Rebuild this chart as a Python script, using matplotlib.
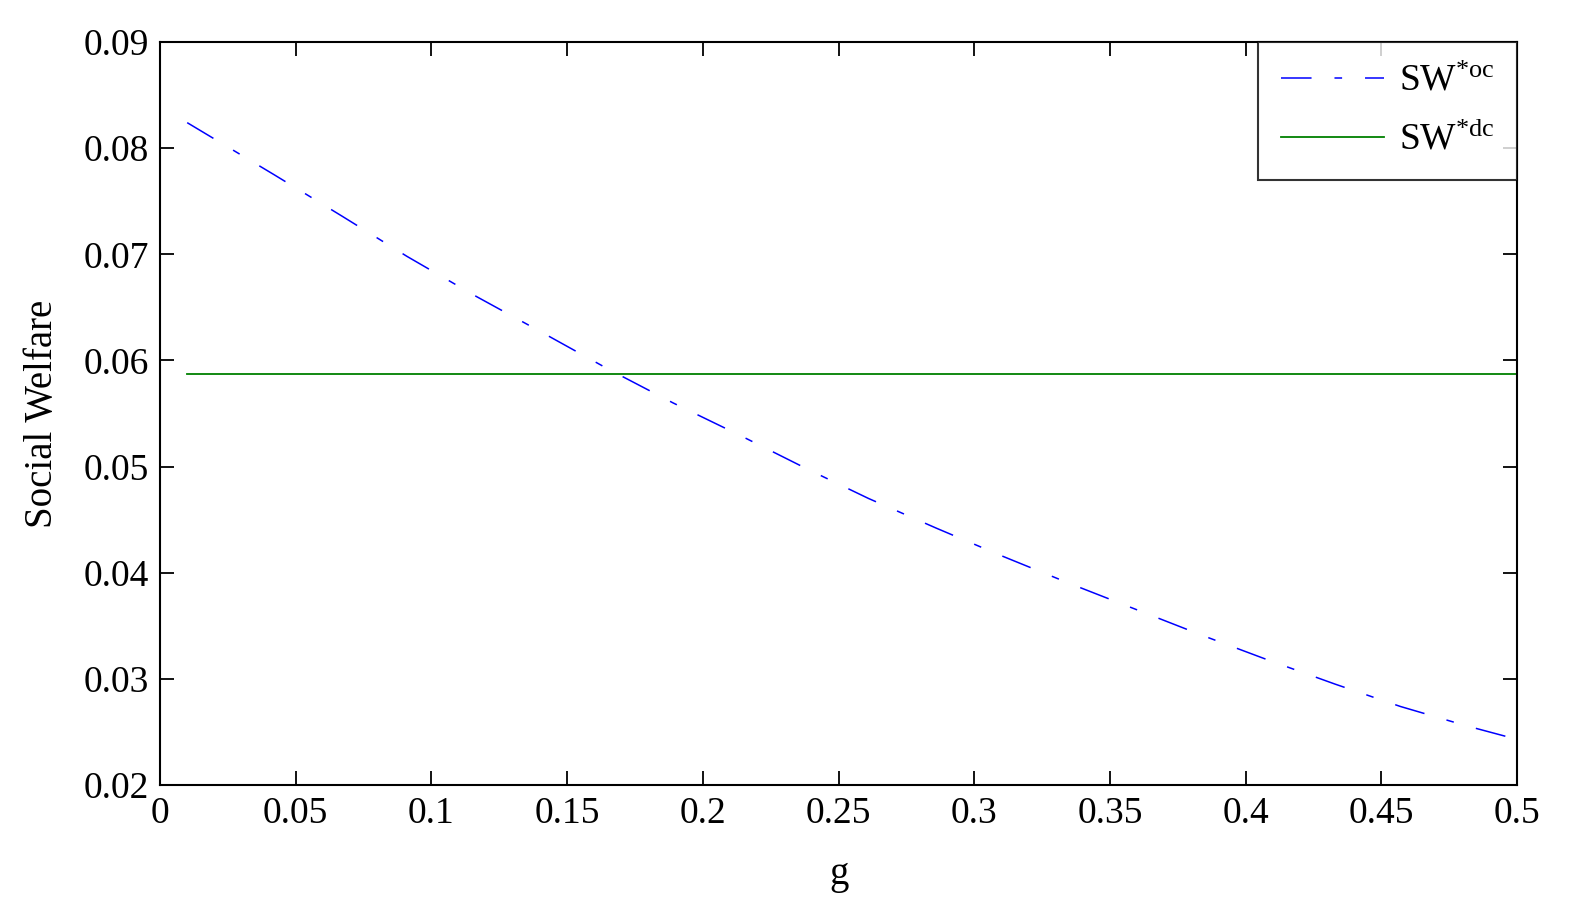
import numpy as np
import matplotlib as mpl
import matplotlib.pyplot as plt

g = [0.01, 0.042, 0.067, 0.091, 0.116, 0.141, 0.165, 0.189, 0.214, 0.239, 0.261,
     0.286, 0.31, 0.335, 0.36, 0.384, 0.408, 0.433, 0.457, 0.481, 0.5]
sw_oc = [0.0824, 0.0775, 0.0736, 0.0698, 0.0661, 0.0626, 0.0592, 0.0560, 0.0529, 0.0497, 0.0470,
         0.0442, 0.0416, 0.0390, 0.0365, 0.0341, 0.0318, 0.0295, 0.0274, 0.0256, 0.0243]
g_dc = [0.01, 0.5]
sw_dc = [0.0587, 0.0587]

mpl.rcParams["font.family"] = ["Liberation Serif", "DejaVu Serif"]
mpl.rcParams["mathtext.fontset"] = "custom"
mpl.rcParams["mathtext.rm"] = "Liberation Serif"
mpl.rcParams["mathtext.it"] = "Liberation Serif"

fig = plt.figure(figsize=(15.77, 9.07), dpi=100)
ax = fig.add_axes([0.1015, 0.1345, 0.8605, 0.8192])

ax.plot(g, sw_oc, color="#0000ff", lw=1.1, linestyle=(0, (20, 15, 5, 15)),
        label=r"SW$^{\mathrm{*oc}}$")
ax.plot(g_dc, sw_dc, color="#008000", lw=1.3, label=r"SW$^{\mathrm{*dc}}$")

ax.set_xlim(0, 0.5)
ax.set_ylim(0.02, 0.09)
ax.set_xticks(np.arange(0, 0.501, 0.05))
ax.set_xticklabels(["0", "0.05", "0.1", "0.15", "0.2", "0.25", "0.3", "0.35", "0.4", "0.45", "0.5"])
ax.set_yticks(np.arange(0.02, 0.0901, 0.01))
ax.set_yticklabels(["0.02", "0.03", "0.04", "0.05", "0.06", "0.07", "0.08", "0.09"])
ax.tick_params(direction="in", top=True, right=True, length=10, width=1.3, labelsize=27, pad=8)
for s in ax.spines.values():
    s.set_linewidth(1.5)

ax.set_xlabel("g", fontsize=28, labelpad=18)
ax.set_ylabel("Social Welfare", fontsize=28, labelpad=16)

leg = ax.legend(loc="upper right", fontsize=27, fancybox=False, borderaxespad=0,
                handlelength=2.75, labelspacing=0.62, borderpad=0.6, handletextpad=0.4)
leg.get_frame().set_edgecolor("black")
leg.get_frame().set_linewidth(1.5)

fig.savefig("out.png", dpi=100)
